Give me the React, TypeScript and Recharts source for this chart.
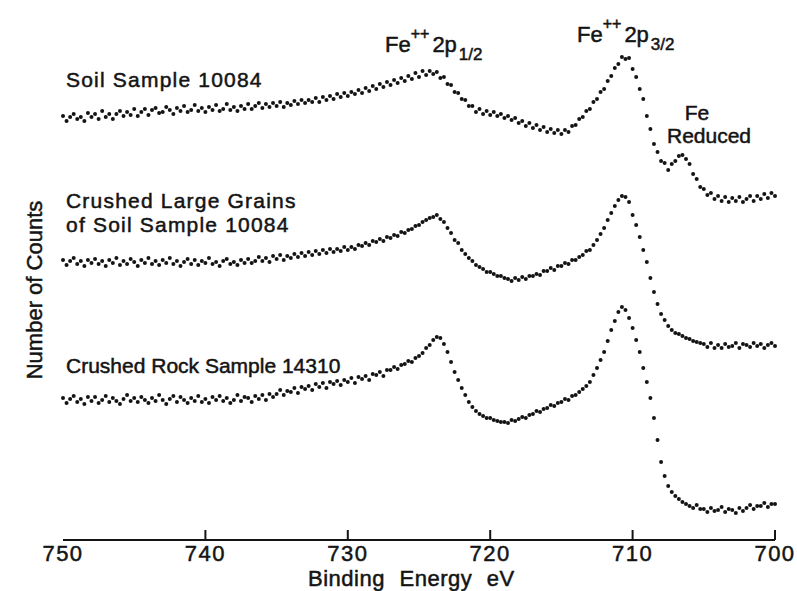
import { ScatterChart, Scatter, XAxis, YAxis } from 'recharts';

// XPS Fe 2p spectra, one reading every 0.25 eV starting at 750 eV
const ENERGY_START = 750;
const ENERGY_STEP = 0.25;

const soilCounts = [
  424, 419, 423, 426, 421, 423, 419, 427, 423, 426, 421, 429, 423, 426, 421, 426, 429, 424, 428, 425,
  431, 424, 428, 431, 425, 430, 432, 427, 428, 433, 430, 426, 432, 429, 434, 428, 430, 435, 429, 432,
  428, 433, 430, 435, 429, 431, 436, 430, 433, 429, 434, 431, 436, 431, 434, 437, 432, 436, 433, 437,
  434, 438, 433, 437, 435, 439, 436, 440, 437, 440, 438, 442, 438, 443, 440, 444, 441, 446, 443, 447,
  444, 448, 446, 450, 447, 452, 449, 454, 451, 456, 453, 458, 455, 460, 457, 462, 459, 464, 461, 467,
  463, 469, 465, 469, 466, 468, 462, 463, 456, 455, 448, 447, 441, 440, 434, 434, 428, 431, 426, 429,
  425, 428, 424, 426, 422, 424, 420, 422, 417, 419, 414, 417, 412, 415, 410, 413, 408, 411, 407, 410,
  406, 410, 408, 414, 415, 421, 423, 429, 431, 438, 441, 448, 451, 459, 464, 472, 476, 483, 481, 482,
  471, 463, 451, 441, 424, 411, 396, 388, 379, 377, 370, 376, 379, 384, 385, 381, 376, 366, 361, 353,
  351, 345, 347, 341, 344, 339, 343, 338, 342, 339, 343, 338, 341, 344, 339, 344, 341, 346, 342, 347,
  344,
];

const grainCounts = [
  280, 275, 279, 282, 276, 279, 274, 280, 277, 281, 276, 279, 274, 280, 277, 282, 275, 279, 276, 281,
  278, 274, 280, 277, 282, 276, 279, 275, 280, 277, 282, 276, 279, 274, 278, 281, 276, 280, 275, 279,
  277, 282, 276, 278, 274, 279, 281, 276, 278, 275, 280, 277, 281, 277, 279, 283, 279, 282, 278, 284,
  281, 285, 280, 284, 282, 286, 283, 287, 284, 288, 285, 289, 286, 290, 287, 291, 288, 291, 289, 293,
  290, 293, 291, 295, 294, 297, 295, 299, 298, 301, 299, 303, 302, 305, 304, 308, 307, 310, 311, 314,
  315, 318, 320, 322, 323, 325, 321, 318, 312, 307, 300, 297, 290, 286, 282, 279, 275, 273, 271, 268,
  268, 266, 264, 264, 262, 261, 259, 262, 260, 263, 261, 264, 264, 266, 265, 269, 269, 272, 270, 274,
  274, 277, 276, 280, 280, 283, 285, 289, 290, 295, 300, 306, 312, 320, 327, 334, 340, 344, 343, 338,
  325, 315, 303, 290, 278, 262, 248, 236, 226, 220, 214, 210, 207, 206, 204, 202, 201, 199, 198, 197,
  196, 193, 197, 192, 195, 192, 196, 193, 194, 197, 192, 196, 195, 193, 197, 194, 196, 192, 195, 197,
  194,
];

const rockCounts = [
  142, 137, 141, 144, 138, 141, 136, 143, 139, 143, 137, 140, 144, 138, 142, 139, 136, 141, 145, 139,
  142, 138, 143, 140, 137, 142, 139, 145, 140, 136, 141, 144, 138, 143, 140, 137, 142, 139, 144, 138,
  141, 137, 143, 140, 144, 139, 142, 137, 140, 145, 139, 143, 142, 138, 144, 141, 145, 140, 146, 143,
  146, 150, 145, 149, 148, 152, 147, 153, 151, 154, 150, 156, 153, 157, 152, 158, 156, 159, 155, 160,
  158, 162, 157, 163, 161, 164, 160, 166, 165, 168, 164, 170, 170, 173, 171, 175, 176, 179, 178, 182,
  184, 187, 192, 195, 200, 203, 202, 196, 188, 178, 168, 160, 152, 145, 138, 133, 129, 126, 124, 122,
  122, 120, 119, 118, 118, 117, 120, 119, 121, 123, 122, 125, 126, 129, 128, 131, 132, 135, 134, 137,
  138, 141, 140, 144, 145, 148, 151, 154, 158, 165, 172, 180, 188, 199, 210, 219, 228, 233, 230, 222,
  212, 200, 188, 172, 158, 142, 122, 100, 78, 64, 54, 48, 44, 41, 38, 36, 34, 32, 35, 31,
  31, 28, 32, 29, 30, 33, 28, 31, 30, 27, 32, 29, 32, 35, 31, 34, 34, 37, 33, 36,
  36,
];

const energyTicks = [750, 740, 730, 720, 710, 700];
const seriesNames = ['Soil Sample 10084', 'Crushed Large Grains', 'of Soil Sample 10084', 'Crushed Rock Sample 14310'];

const energies = soilCounts.map((_, i) => ENERGY_START - i * ENERGY_STEP);
const toPoints = (counts: number[]) => counts.map((c, i) => ({ energy: energies[i], counts: c }));

const soilData = toPoints(soilCounts);
const grainData = toPoints(grainCounts);
const rockData = toPoints(rockCounts);

const FONT = '"Liberation Sans", Arial, sans-serif';
const INK = '#141414';

// a thin outline thickens the lettering a little
const inked = { stroke: INK, strokeWidth: 0.5 };

const Dot = ({ cx, cy }: any) => <circle cx={cx} cy={cy} r={2} fill={INK} />;

// ticks point up into the plot, labels sit under the axis
const EnergyTick = ({ x, y, payload }: any) => (
  <g>
    {payload.value !== 750 && <line x1={x} y1={y} x2={x} y2={y - 10} stroke={INK} strokeWidth={2} />}
    <text
      x={x}
      y={y + 21}
      textAnchor="middle"
      fontSize={22}
      letterSpacing={1.5}
      fontFamily={FONT}
      fill={INK}
      {...inked}
    >
      {payload.value}
    </text>
  </g>
);

export default function App() {
  return (
    <div style={{ position: 'absolute', left: 0, top: 0, width: 797, height: 591, background: '#fff' }}>
      <ScatterChart width={797} height={591} margin={{ top: 13, right: 22, bottom: 0, left: 63 }}>
        <XAxis
          type="number"
          dataKey="energy"
          domain={[700, 750]}
          reversed
          ticks={energyTicks}
          height={51}
          tickSize={0}
          tickMargin={0}
          tickLine={false}
          axisLine={{ stroke: INK, strokeWidth: 2 }}
          tick={<EnergyTick />}
        />
        <YAxis
          type="number"
          dataKey="counts"
          domain={[0, 527]}
          width={0}
          tick={false}
          tickLine={false}
          axisLine={{ stroke: INK, strokeWidth: 2 }}
        />
        <Scatter data={soilData} shape={<Dot />} isAnimationActive={false} />
        <Scatter data={grainData} shape={<Dot />} isAnimationActive={false} />
        <Scatter data={rockData} shape={<Dot />} isAnimationActive={false} />
      </ScatterChart>

      <svg
        width={797}
        height={591}
        style={{ position: 'absolute', left: 0, top: 0, pointerEvents: 'none' }}
        fontFamily={FONT}
        fill={INK}
      >
        <text x={42} y={290} fontSize={22} textAnchor="middle" transform="rotate(-90 42 290)" {...inked}>
          Number of Counts
        </text>
        <text x={308} y={586} fontSize={22} wordSpacing={8} letterSpacing={0.5} {...inked}>
          Binding Energy eV
        </text>

        <text x={66} y={87} fontSize={21} letterSpacing={1.2} {...inked}>{seriesNames[0]}</text>
        <text x={66} y={208} fontSize={21} letterSpacing={1.2} {...inked}>{seriesNames[1]}</text>
        <text x={66} y={232} fontSize={21} letterSpacing={1.2} {...inked}>{seriesNames[2]}</text>
        <text x={66} y={373} fontSize={21} {...inked}>{seriesNames[3]}</text>

        <text x={385} y={52} fontSize={22} {...inked}>
          Fe<tspan dy={-13} fontSize={16}>++</tspan>
          <tspan dy={13} dx={3}>2p</tspan>
          <tspan dy={8} dx={2} fontSize={17}>1/2</tspan>
        </text>
        <text x={577} y={42} fontSize={22} {...inked}>
          Fe<tspan dy={-13} fontSize={16}>++</tspan>
          <tspan dy={13} dx={3}>2p</tspan>
          <tspan dy={8} dx={2} fontSize={17}>3/2</tspan>
        </text>
        <text x={697} y={120} fontSize={21} textAnchor="middle" {...inked}>Fe</text>
        <text x={709} y={143} fontSize={21} textAnchor="middle" {...inked}>Reduced</text>
      </svg>
    </div>
  );
}
